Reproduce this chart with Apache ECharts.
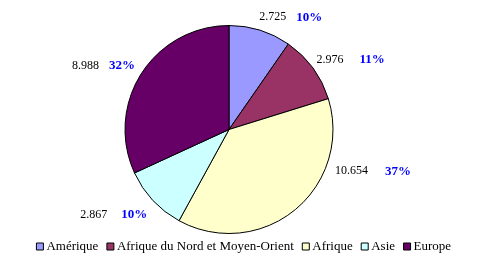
<!DOCTYPE html>
<html>
<head>
<meta charset="utf-8">
<script src="https://cdn.jsdelivr.net/npm/echarts@6/dist/echarts.min.js"></script>
<style>
html,body{margin:0;padding:0;background:#fff;}
#c{width:487px;height:265px;}
</style>
</head>
<body>
<div id="c"></div>
<script>
var categories = ['Amérique', 'Afrique du Nord et Moyen-Orient', 'Afrique', 'Asie', 'Europe'];
var values = [2.725, 2.976, 10.654, 2.867, 8.988];
var valueLabels = ['2.725', '2.976', '10.654', '2.867', '8.988'];
var percentLabels = ['10%', '11%', '37%', '10%', '32%'];
var colors = ['#9999FF', '#993366', '#FFFFCC', '#CCFFFF', '#660066'];

// label styling / nudges (layout, not data)
var gapStyles = ['g10', 'g16', 'g17', 'g14', 'g10'];
var labelNudge = [[-4.4, -1.5], [-6, -1.5], [32.6, -48], [3, 6.4], [3.6, -1.2]];

var font = 'Liberation Serif, Times New Roman, serif';

var chart = echarts.init(document.getElementById('c'), null, {renderer: 'canvas'});

var data = categories.map(function (name, i) {
  return {name: name, value: values[i], itemStyle: {color: colors[i]}};
});

chart.setOption({
  animation: false,
  backgroundColor: '#fff',
  legend: {
    data: categories,
    left: 'center',
    top: 235,
    icon: 'rect',
    itemWidth: 7,
    itemHeight: 7,
    itemGap: 8,
    itemStyle: {borderColor: '#000', borderWidth: 1},
    textStyle: {fontFamily: font, fontSize: 13, color: '#000', padding: [0, 0, 0, -2]}
  },
  series: [{
    type: 'pie',
    center: [229, 129.5],
    radius: 104,
    startAngle: 90,
    clockwise: true,
    avoidLabelOverlap: false,
    data: data,
    itemStyle: {borderColor: '#000', borderWidth: 1},
    emphasis: {disabled: true},
    label: {
      show: true,
      position: 'outside',
      distanceToLabelLine: 0,
      formatter: function (p) {
        var i = p.dataIndex;
        return '{v|' + valueLabels[i] + '}{' + gapStyles[i] + '|}{p|' + percentLabels[i] + '}';
      },
      rich: {
        v: {fontFamily: font, fontSize: 12, color: '#000'},
        p: {fontFamily: font, fontSize: 13, fontWeight: 'bold', color: '#0000FF'},
        g10: {width: 10},
        g14: {width: 14},
        g16: {width: 16},
        g17: {width: 17}
      }
    },
    labelLine: {show: false, length: 12, length2: 0},
    labelLayout: function (params) {
      var n = labelNudge[params.dataIndex];
      return {dx: n[0], dy: n[1]};
    }
  }]
});
</script>
</body>
</html>
